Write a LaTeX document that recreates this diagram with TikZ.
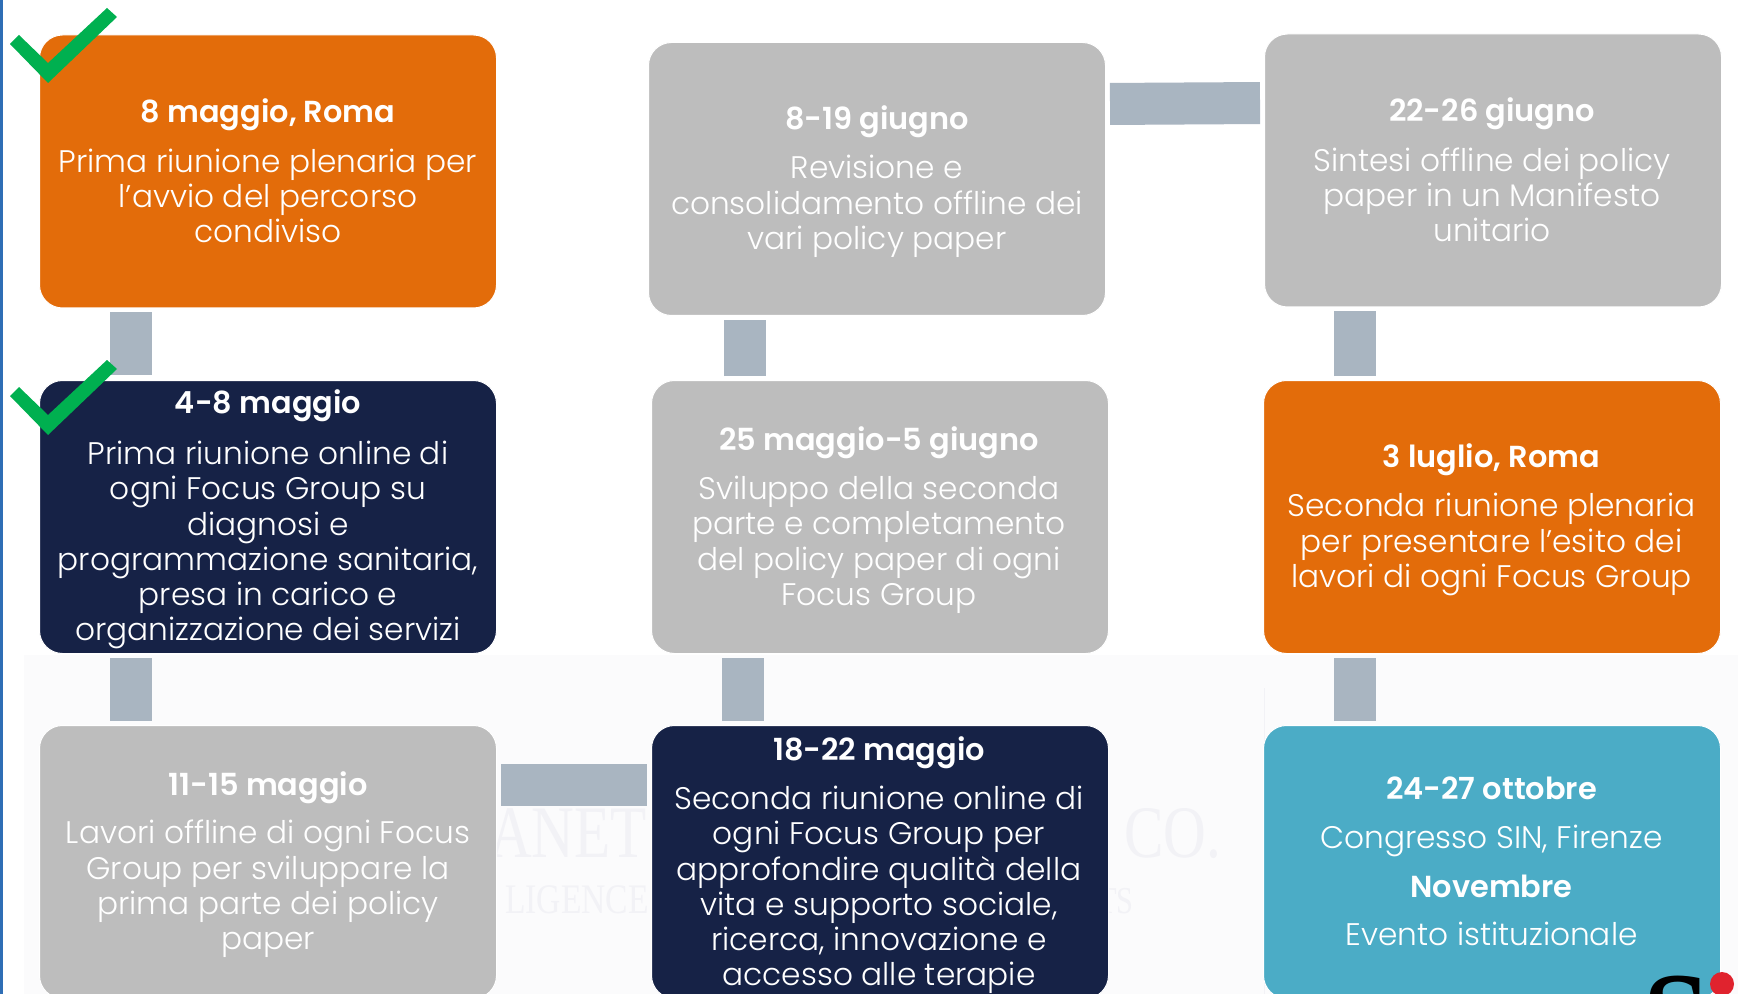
\documentclass[tikz,border=0pt]{standalone}
\usepackage{fontspec}
\setmainfont{Poppins}[UprightFont=* Light,BoldFont=* SemiBold]
\newfontfamily\wmfont[FakeStretch=0.8]{Liberation Serif}
\newfontfamily\logofont{Liberation Serif}
\usetikzlibrary{calc}
\definecolor{cOrange}{HTML}{E36C0A}
\definecolor{cNavy}{HTML}{162246}
\definecolor{cGrey}{HTML}{BDBDBD}
\definecolor{cTeal}{HTML}{4BACC6}
\definecolor{cConn}{HTML}{A9B5C1}
\definecolor{cCheck}{HTML}{00B050}
\definecolor{cWash}{HTML}{FBFBFC}
\definecolor{cMark}{HTML}{F2F2F6}
\definecolor{cStripe}{HTML}{2F6EB5}
\definecolor{cDot}{HTML}{E0232E}
\newcommand{\fsz}{\fontsize{15.6}{17.65}\selectfont}
\newcommand{\tsz}{\fontsize{15.2}{17.65}\selectfont}
\newcommand{\first}{\rule{0pt}{12pt}}
\tikzset{
  x=0.5pt,y=-0.5pt,
  card/.style={draw=white,line width=0.5pt,rounded corners=11.5pt,minimum width=228.5pt,minimum height=136.5pt,inner sep=0pt,anchor=north west},
  cardtitle/.style={anchor=base,inner sep=0pt,text=white,font=\tsz\bfseries},
  cardbody/.style={anchor=north,inner sep=0pt,text=white,align=center,font=\fsz},
  conn/.style={draw=cConn,line cap=butt,line width=21pt,shorten <=2pt,shorten >=2pt},
  tickmark/.style={fill=cCheck,draw=none},
  wmark/.style={text=cMark,inner sep=0pt,anchor=base}
}
\begin{document}
\begin{tikzpicture}
\useasboundingbox (0,0) rectangle (1738,994);
\clip (0,0) rectangle (1738,994);
\fill[white] (0,0) rectangle (1738,994);
\fill[cWash] (24,655) rectangle (1738,994);
\fill[cStripe] (0,0) rectangle (3,994);
\draw[cMark,line width=0.5pt] (1264,688) -- (1264,994);
\node[wmark,font=\wmfont\fontsize{37}{37}\selectfont] (wmA) at (568,857) {ANET};
\node[wmark,font=\wmfont\fontsize{37}{37}\selectfont] (wmB) at (1173,857) {CO.};
\node[wmark,font=\wmfont\fontsize{21}{21}\selectfont] (wmC) at (577,913) {LIGENCE};
\node[wmark,font=\wmfont\fontsize{19}{19}\selectfont] (wmD) at (1116,913) {TS};
% cards
\node[card,fill=cOrange] (a1) at (39,34.5) {};
\node[card,fill=cNavy] (a2) at (39,380) {};
\node[card,fill=cGrey] (a3) at (39,725) {};
\node[card,fill=cGrey] (b1) at (648,42) {};
\node[card,fill=cGrey] (b2) at (651,380) {};
\node[card,fill=cNavy] (b3) at (651,725) {};
\node[card,fill=cGrey] (c1) at (1264,33.5) {};
\node[card,fill=cOrange] (c2) at (1263,380) {};
\node[card,fill=cTeal] (c3) at (1263,725) {};
% connectors
\draw[conn,shorten <=2pt,shorten >=2.5pt] ([xshift=-68.5pt]a1.south) -- ([xshift=-68.5pt]a2.north);
\draw[conn] ([xshift=-68.5pt]a2.south) -- ([xshift=-68.5pt]a3.north);
\draw[conn] ([xshift=-67.5pt]b2.north) -- ([xshift=-66pt]b1.south);
\draw[conn] ([xshift=-68.75pt]b3.north) -- ([xshift=-68.75pt]b2.south);
\draw[conn] ([xshift=-68.5pt]c2.north) -- ([xshift=-69pt]c1.south);
\draw[conn] ([xshift=-68.5pt]c3.north) -- ([xshift=-68.5pt]c2.south);
\draw[conn] (a3.north east |- 0,785) -- (b3.north west |- 0,785);
\draw[conn] (b1.north east |- 0,104) -- (c1.north west |- 0,103);
% text
\node[cardtitle] (t1) at (268,122.5) {8 maggio, Roma};
\node[cardbody] (d1) at (268,148) {\first Prima riunione plenaria per\\l’avvio del percorso\\condiviso};
\node[cardtitle] (t2) at (268,413.5) {4-8 maggio};
\node[cardbody] (d2) at (268,440) {\first Prima riunione online di\\ogni Focus Group su\\diagnosi e\\programmazione sanitaria,\\presa in carico e\\organizzazione dei servizi};
\node[cardtitle] (t3) at (268,795) {11-15 maggio};
\node[cardbody] (d3) at (268,819.5) {\first Lavori offline di ogni Focus\\Group per sviluppare la\\prima parte dei policy\\paper};
\node[cardtitle] (t4) at (877,129.5) {8-19 giugno};
\node[cardbody] (d4) at (877,154.5) {\first Revisione e\\consolidamento offline dei\\vari policy paper};
\node[cardtitle] (t5) at (879,450) {25 maggio-5 giugno};
\node[cardbody] (d5) at (879,475) {\first Sviluppo della seconda\\parte e completamento\\del policy paper di ogni\\Focus Group};
\node[cardtitle] (t6) at (879,760) {18-22 maggio};
\node[cardbody] (d6) at (879,785) {\first Seconda riunione online di\\ogni Focus Group per\\approfondire qualità della\\vita e supporto sociale,\\ricerca, innovazione e\\accesso alle terapie};
\node[cardtitle] (t7) at (1492,121.5) {22-26 giugno};
\node[cardbody] (d7) at (1492,147) {\first Sintesi offline dei policy\\paper in un Manifesto\\unitario};
\node[cardtitle] (t8) at (1491.5,467) {3 luglio, Roma};
\node[cardbody] (d8) at (1491.5,492.5) {\first Seconda riunione plenaria\\per presentare l’esito dei\\lavori di ogni Focus Group};
\node[cardtitle] (t9) at (1491.5,799) {24-27 ottobre};
\node[cardbody,anchor=base] (d9) at (1491.5,848) {Congresso SIN, Firenze};
\node[cardtitle] (t10) at (1491.5,897) {Novembre};
\node[cardbody,anchor=base] (d10) at (1491.5,945.5) {Evento istituzionale};
% ticks
\fill[tickmark] (10,44) -- (19,35) -- (48,63) -- (107,8) -- (117,17) -- (48,83) -- cycle;
\fill[tickmark] (10,396) -- (19,387) -- (48,415) -- (107,360) -- (117,369) -- (48,435) -- cycle;
% logo
\node[anchor=base,inner sep=0pt,text=black,font=\logofont\bfseries\fontsize{60}{60}\selectfont] (logo) at (1677,1055) {S};
\fill[cDot] (1722,984) circle (12);
\end{tikzpicture}
\end{document}
